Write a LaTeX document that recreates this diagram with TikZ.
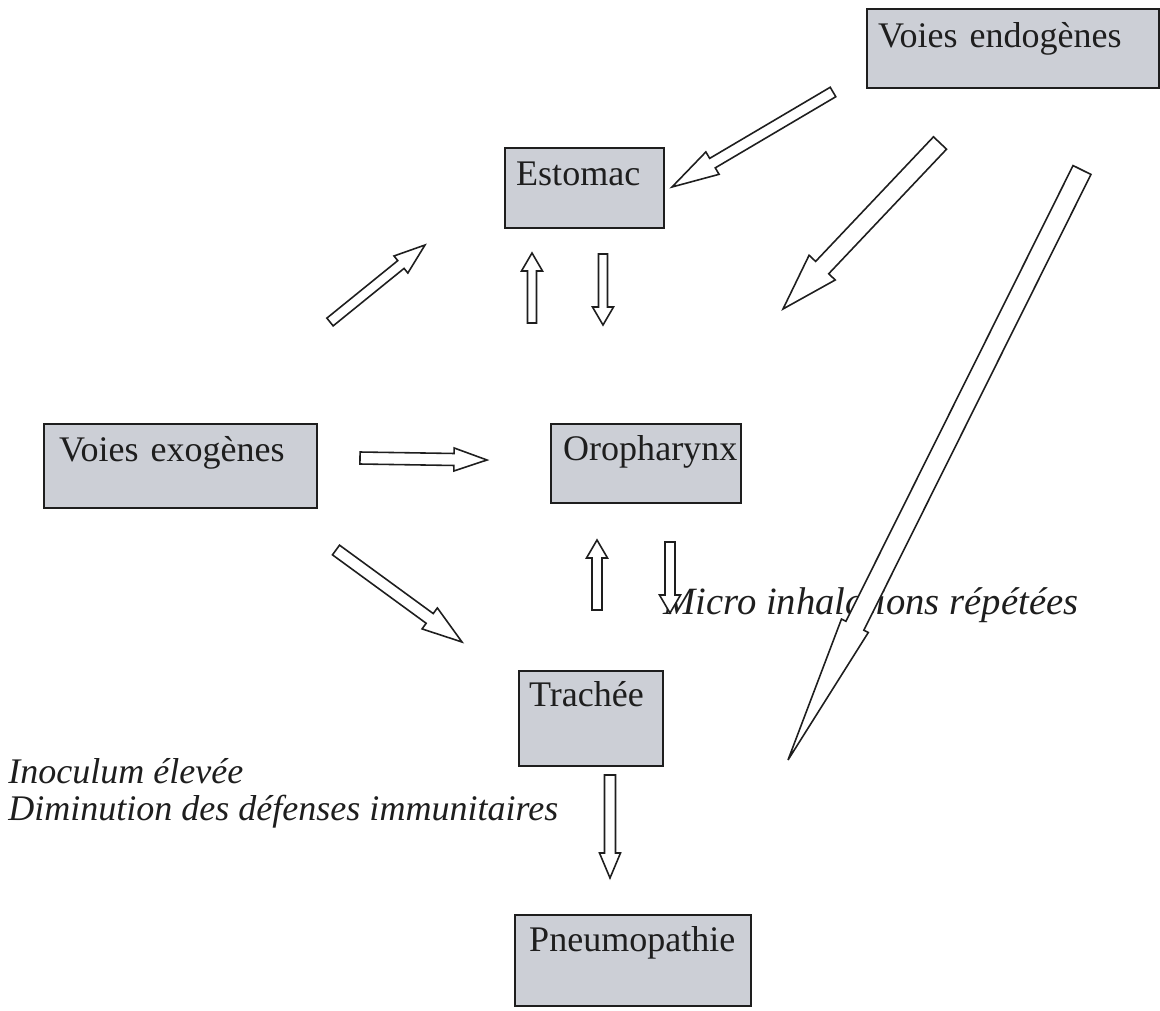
\documentclass[tikz,border=0pt]{standalone}
\usepackage{fontspec}
\setmainfont{Liberation Serif}
\usetikzlibrary{calc}
\definecolor{boxfill}{RGB}{204,207,214}
\definecolor{inkc}{RGB}{30,30,30}
% block arrow: #1 tail coordinate, #2 tip coordinate, #3 shaft half width, #4 head half width, #5 head length
\newcommand\blockarr[5]{%
  \coordinate (ba-n) at ($(#2)!#5!(#1)$);
  \draw[blockarrow] ($(#1)!#3!90:(#2)$) -- ($(ba-n)!#3!-90:(#1)$) -- ($(ba-n)!#4!-90:(#1)$) -- (#2)
    -- ($(ba-n)!#4!90:(#1)$) -- ($(ba-n)!#3!90:(#1)$) -- ($(#1)!#3!-90:(#2)$) -- cycle;}
\begin{document}
\begin{tikzpicture}[x=0.02cm,y=-0.02cm,
  box/.style={draw=inkc, fill=boxfill, line width=1.4pt, rectangle, anchor=north west,
    align=left, inner ysep=0pt, font=\fontsize{20.5}{22}\selectfont, text=inkc},
  blockarrow/.style={draw=inkc, fill=white, line width=0.9pt, line join=miter},
  note/.style={font=\fontsize{20.5}{22}\selectfont\itshape, text=inkc, inner sep=0pt, anchor=base west}]
\useasboundingbox[fill=white] (0,0) rectangle (1160,1011);

% boxes
\node[box, minimum width=5.84cm, minimum height=1.58cm, inner xsep=0.22cm, text width=5.40cm,
  text height=0.76cm, text depth=0.82cm] (endo) at (866,8) {Voies endogènes};
\node[box, minimum width=3.18cm, minimum height=1.60cm, inner xsep=0.22cm, text width=2.74cm,
  text height=0.74cm, text depth=0.86cm] (estomac) at (504,147) {Estomac};
\node[box, minimum width=5.46cm, minimum height=1.68cm, inner xsep=0.30cm, text width=4.86cm,
  text height=0.74cm, text depth=0.94cm] (exo) at (43,423) {Voies exogènes};
\node[box, minimum width=3.80cm, minimum height=1.58cm, inner xsep=0.24cm, text width=3.32cm,
  text height=0.72cm, text depth=0.86cm] (oro) at (550,423) {Oropharynx};
\node[box, minimum width=2.88cm, minimum height=1.90cm, inner xsep=0.20cm, text width=2.48cm,
  text height=0.70cm, text depth=1.20cm] (trachee) at (518,670) {Trachée};
\node[box, minimum width=4.72cm, minimum height=1.82cm, inner xsep=0.28cm, text width=4.16cm,
  text height=0.72cm, text depth=1.10cm] (pneumo) at (514,914) {Pneumopathie};

% notes
\node[note, font=\fontsize{22}{24}\selectfont\itshape] (micro) at (663,614) {Micro inhalations répétées};
\node[note] (inoc1) at (8,783) {Inoculum élevée};
\node[note] (inoc2) at (8,820) {Diminution des défenses immunitaires};

% arrow end points
\coordinate (a1t) at (833,92);   \coordinate (a1h) at (672,187);
\coordinate (a2t) at (940,143);  \coordinate (a2h) at (783,309);
\coordinate (a3t) at (1082,170); \coordinate (a3h) at (788,760);
\coordinate (a4t) at (330,322);  \coordinate (a4h) at (425,245);
\coordinate (a5t) at (532,323);  \coordinate (a5h) at (532,253);
\coordinate (a6t) at (603,254);  \coordinate (a6h) at (603,325);
\coordinate (a7t) at (360,458);  \coordinate (a7h) at (487,460);
\coordinate (a8t) at (336,550);  \coordinate (a8h) at (462,642);
\coordinate (a9t) at (597,610);  \coordinate (a9h) at (597,540);
\coordinate (a10t) at (670,542); \coordinate (a10h) at (670,613);
\coordinate (a11t) at (610,775); \coordinate (a11h) at (610,878);

% arrows
\blockarr{a1t}{a1h}{0.11cm}{0.26cm}{0.94cm}
\blockarr{a2t}{a2h}{0.18cm}{0.36cm}{1.14cm}
\blockarr{a4t}{a4h}{0.10cm}{0.22cm}{0.62cm}
\blockarr{a5t}{a5h}{0.09cm}{0.21cm}{0.36cm}
\blockarr{a6t}{a6h}{0.09cm}{0.21cm}{0.36cm}
\blockarr{a7t}{a7h}{0.12cm}{0.23cm}{0.66cm}
\blockarr{a8t}{a8h}{0.12cm}{0.26cm}{0.80cm}
\blockarr{a9t}{a9h}{0.10cm}{0.21cm}{0.36cm}
\blockarr{a10t}{a10h}{0.10cm}{0.21cm}{0.36cm}
\blockarr{a11t}{a11h}{0.11cm}{0.21cm}{0.50cm}
\blockarr{a3t}{a3h}{0.20cm}{0.30cm}{3.0cm}
\end{tikzpicture}
\end{document}
